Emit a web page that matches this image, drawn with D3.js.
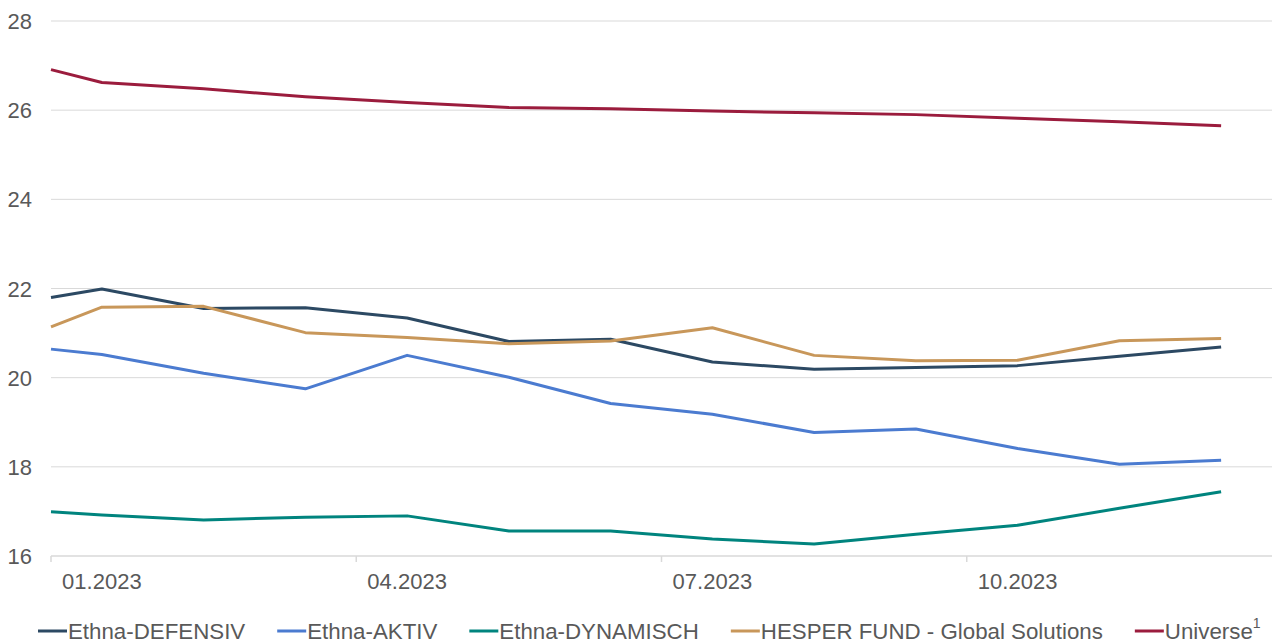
<!DOCTYPE html>
<html>
<head>
<meta charset="utf-8">
<script src="https://cdn.jsdelivr.net/npm/d3@7"></script>
<style>
  html, body { margin: 0; padding: 0; background: #fff; }
  svg { display: block; font-family: "Liberation Sans", Arial, sans-serif; }
</style>
</head>
<body>
<svg id="chart" width="1272" height="643"></svg>
<script>
// Months shown on the axis (first value of each series = start of year)
const months = ['01.2023', '02.2023', '03.2023', '04.2023', '05.2023', '06.2023',
                '07.2023', '08.2023', '09.2023', '10.2023', '11.2023', '12.2023'];
const tickLabels = ['01.2023', '04.2023', '07.2023', '10.2023'];
const yTicks = [16, 18, 20, 22, 24, 26, 28];

const seriesNames = ['Ethna-DEFENSIV', 'Ethna-AKTIV', 'Ethna-DYNAMISCH',
                     'HESPER FUND - Global Solutions', 'Universe'];

const defensiv  = [21.80, 21.99, 21.55, 21.57, 21.34, 20.81, 20.86, 20.35, 20.19, 20.23, 20.27, 20.48, 20.69];
const aktiv     = [20.64, 20.52, 20.10, 19.75, 20.50, 20.01, 19.42, 19.18, 18.77, 18.85, 18.41, 18.06, 18.15];
const dynamisch = [16.99, 16.92, 16.81, 16.87, 16.90, 16.56, 16.56, 16.38, 16.27, 16.49, 16.69, 17.07, 17.44];
const hesper    = [21.14, 21.58, 21.60, 21.01, 20.90, 20.76, 20.82, 21.12, 20.50, 20.38, 20.39, 20.83, 20.88];
const universe  = [26.91, 26.62, 26.48, 26.30, 26.17, 26.06, 26.03, 25.98, 25.94, 25.90, 25.82, 25.74, 25.65];

const colors = ['#2c4963', '#4b7bd0', '#00847e', '#c8975a', '#9b1c3d'];
const allSeries = [defensiv, aktiv, dynamisch, hesper, universe];

const svg = d3.select('#chart');
const plot = { left: 51, right: 1272, top: 21, bottom: 556 };
const textColor = '#595959';
const gridColor = '#d9d9d9';
const fontSize = '22px';

const x = d3.scaleBand().domain(months).range([plot.left, plot.right]).padding(0);
const y = d3.scaleLinear().domain([16, 28]).range([plot.bottom, plot.top]);

// point i=0 sits at the start of January, others at the centre of each month
function xAt(i) {
    if (i === 0) return x(months[0]);
    return x(months[i - 1]) + x.bandwidth() / 2;
}

// Horizontal grid lines
svg.append('g')
    .selectAll('line')
    .data(yTicks.filter(d => d !== 16))
    .join('line')
    .attr('x1', plot.left)
    .attr('x2', plot.right)
    .attr('y1', d => y(d))
    .attr('y2', d => y(d))
    .style('stroke', gridColor)
    .style('stroke-width', 1);

// Y labels
svg.append('g')
    .selectAll('text')
    .data(yTicks)
    .join('text')
    .attr('x', 32)
    .attr('y', d => y(d) + 8)
    .attr('text-anchor', 'end')
    .style('font-size', fontSize)
    .style('fill', textColor)
    .text(d => d);

// X axis line and quarter ticks
svg.append('line')
    .attr('x1', plot.left).attr('x2', plot.right)
    .attr('y1', plot.bottom).attr('y2', plot.bottom)
    .style('stroke', gridColor)
    .style('stroke-width', 1.5);

svg.append('g')
    .selectAll('line')
    .data(tickLabels)
    .join('line')
    .attr('x1', d => x(d))
    .attr('x2', d => x(d))
    .attr('y1', plot.bottom)
    .attr('y2', plot.bottom + 6)
    .style('stroke', gridColor)
    .style('stroke-width', 1.5);

svg.append('g')
    .selectAll('text')
    .data(tickLabels)
    .join('text')
    .attr('x', d => x(d) + x.bandwidth() / 2)
    .attr('y', 589)
    .attr('text-anchor', 'middle')
    .style('font-size', fontSize)
    .style('fill', textColor)
    .text(d => d);

// Lines
const line = d3.line()
    .x((d, i) => xAt(i))
    .y(d => y(d));

svg.append('g')
    .selectAll('path')
    .data(allSeries)
    .join('path')
    .attr('d', d => line(d))
    .style('fill', 'none')
    .style('stroke', (d, i) => colors[i])
    .style('stroke-width', 3)
    .style('stroke-linejoin', 'round');

// Legend (sits at the very bottom edge, as in the original)
const legend = svg.append('g');
let lx = 38;
const ly = 631;
seriesNames.forEach((name, i) => {
    legend.append('line')
        .attr('x1', lx).attr('x2', lx + 29)
        .attr('y1', ly).attr('y2', ly)
        .style('stroke', colors[i])
        .style('stroke-width', 3);
    const t = legend.append('text')
        .attr('x', lx + 30)
        .attr('y', ly + 8)
        .style('font-size', '22.3px')
        .style('fill', textColor)
        .text(name);
    if (name === 'Universe') {
        t.append('tspan')
            .attr('dy', -11)
            .style('font-size', '14px')
            .text('1');
    }
    lx += 30 + t.node().getComputedTextLength() + 32;
});
</script>
</body>
</html>
